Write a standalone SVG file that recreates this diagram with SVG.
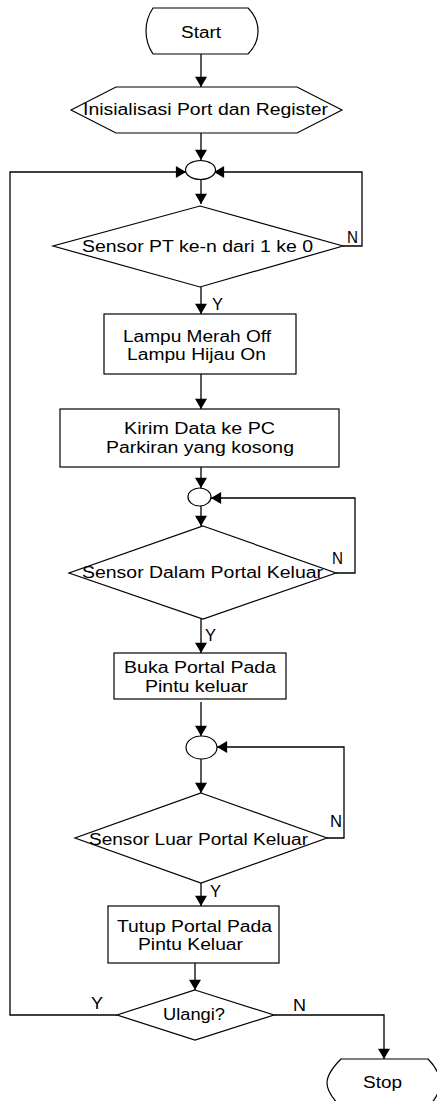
<svg xmlns="http://www.w3.org/2000/svg" width="437" height="1101" viewBox="0 0 437 1101">
<style>
.s{fill:#fff;stroke:#000;stroke-width:1.2}
.t{font-family:"Liberation Sans",Arial,sans-serif;font-size:16px;fill:#000}
.c{fill:none;stroke:#000;stroke-width:1.3}
</style>
<defs>
<marker id="a" markerUnits="userSpaceOnUse" markerWidth="14" markerHeight="12" refX="11" refY="6.5" orient="auto" viewBox="0 0 12 13">
<path d="M0,0 L11,6.5 L0,13 Z" fill="#000"/>
</marker>
</defs>
<rect width="437" height="1101" fill="#fff"/>
<g id="connectors">
<path class="c" d="M201,54 L201,87" marker-end="url(#a)"/>
<path class="c" d="M201,133 L201,160" marker-end="url(#a)"/>
<path class="c" d="M201,179 L201,204" marker-end="url(#a)"/>
<path class="c" d="M343,246 L362,246 L362,172 L214,172" marker-end="url(#a)"/>
<path class="c" d="M201,287 L201,314" marker-end="url(#a)"/>
<path class="c" d="M201,374 L201,409" marker-end="url(#a)"/>
<path class="c" d="M201,467 L201,488" marker-end="url(#a)"/>
<path class="c" d="M201,506 L201,526" marker-end="url(#a)"/>
<path class="c" d="M336,573 L355,573 L355,498 L211,498" marker-end="url(#a)"/>
<path class="c" d="M201,619 L201,653" marker-end="url(#a)"/>
<path class="c" d="M201,702 L201,736" marker-end="url(#a)"/>
<path class="c" d="M201,759 L201,793" marker-end="url(#a)"/>
<path class="c" d="M327,838 L344,838 L344,747 L217,747" marker-end="url(#a)"/>
<path class="c" d="M201,883 L201,906" marker-end="url(#a)"/>
<path class="c" d="M195,963 L195,990" marker-end="url(#a)"/>
<path class="c" d="M117,1015 L10,1015 L10,172 L186,172" marker-end="url(#a)"/>
<path class="c" d="M274,1015 L384,1015 L384,1059" marker-end="url(#a)"/>
<text class="t" x="347" y="243" textLength="11" lengthAdjust="spacingAndGlyphs">N</text>
<text class="t" x="212" y="310" textLength="11" lengthAdjust="spacingAndGlyphs">Y</text>
<text class="t" x="332" y="564" textLength="11" lengthAdjust="spacingAndGlyphs">N</text>
<text class="t" x="205" y="641" textLength="11" lengthAdjust="spacingAndGlyphs">Y</text>
<text class="t" x="330" y="827" textLength="12" lengthAdjust="spacingAndGlyphs">N</text>
<text class="t" x="210" y="897" textLength="11" lengthAdjust="spacingAndGlyphs">Y</text>
<text class="t" x="91" y="1009" textLength="12" lengthAdjust="spacingAndGlyphs">Y</text>
<text class="t" x="293" y="1011" textLength="13" lengthAdjust="spacingAndGlyphs">N</text>
</g>
<g id="start">
<path class="s" d="M153,8 L248,8 C254,14 258,22 258,31 C258,40 254,48 248,54 L153,54 C149,48 146,40 146,31 C146,22 149,14 153,8 Z"/>
<text class="t" x="181" y="37.5" textLength="40" lengthAdjust="spacingAndGlyphs">Start</text>
</g>
<g id="init">
<polygon class="s" points="71,110 116,87 297,87 342,110 297,133 116,133"/>
<text class="t" x="83" y="115" textLength="245" lengthAdjust="spacingAndGlyphs">Inisialisasi Port dan Register</text>
</g>
<g id="conn1"><ellipse class="s" cx="200.5" cy="170" rx="15" ry="9.5"/></g>
<g id="dec1">
<polygon class="s" points="200,206 343,246 200,287 53,246"/>
<text class="t" x="82" y="252" textLength="231" lengthAdjust="spacingAndGlyphs">Sensor PT ke-n dari 1 ke 0</text>
</g>
<g id="proc1">
<rect class="s" x="104" y="314" width="192" height="60"/>
<text class="t" x="123" y="342" textLength="148" lengthAdjust="spacingAndGlyphs">Lampu Merah Off</text>
<text class="t" x="127" y="360" textLength="139" lengthAdjust="spacingAndGlyphs">Lampu Hijau On</text>
</g>
<g id="proc2">
<rect class="s" x="60" y="409" width="279" height="58"/>
<text class="t" x="124" y="434" textLength="151" lengthAdjust="spacingAndGlyphs">Kirim Data ke PC</text>
<text class="t" x="106" y="453" textLength="188" lengthAdjust="spacingAndGlyphs">Parkiran yang kosong</text>
</g>
<g id="conn2"><ellipse class="s" cx="199.5" cy="497" rx="11.5" ry="9"/></g>
<g id="dec2">
<polygon class="s" points="203,526 336,573 203,619 69,573"/>
<text class="t" x="82" y="578" textLength="241" lengthAdjust="spacingAndGlyphs">Sensor Dalam Portal Keluar</text>
</g>
<g id="proc3">
<rect class="s" x="114" y="653" width="172" height="46"/>
<text class="t" x="124" y="673" textLength="152" lengthAdjust="spacingAndGlyphs">Buka Portal Pada</text>
<text class="t" x="145" y="692" textLength="103" lengthAdjust="spacingAndGlyphs">Pintu keluar</text>
</g>
<g id="conn3"><ellipse class="s" cx="201.5" cy="747.5" rx="15.5" ry="11.5"/></g>
<g id="dec3">
<polygon class="s" points="201,793 327,838 201,883 75,838"/>
<text class="t" x="89" y="845" textLength="219" lengthAdjust="spacingAndGlyphs">Sensor Luar Portal Keluar</text>
</g>
<g id="proc4">
<rect class="s" x="108" y="906" width="171" height="57"/>
<text class="t" x="117" y="932" textLength="155" lengthAdjust="spacingAndGlyphs">Tutup Portal Pada</text>
<text class="t" x="138" y="950" textLength="105" lengthAdjust="spacingAndGlyphs">Pintu Keluar</text>
</g>
<g id="dec4">
<polygon class="s" points="195,990 274,1015 195,1040 117,1015"/>
<text class="t" x="163" y="1020" textLength="62" lengthAdjust="spacingAndGlyphs">Ulangi?</text>
</g>
<g id="stop">
<path class="s" d="M341,1059 L428,1059 C435,1066 440,1074 440,1083 C440,1092 435,1100 428,1107 L341,1107 C334,1100 327,1092 327,1083 C327,1074 334,1066 341,1059 Z"/>
<text class="t" x="363" y="1088" textLength="39" lengthAdjust="spacingAndGlyphs">Stop</text>
</g>
</svg>
